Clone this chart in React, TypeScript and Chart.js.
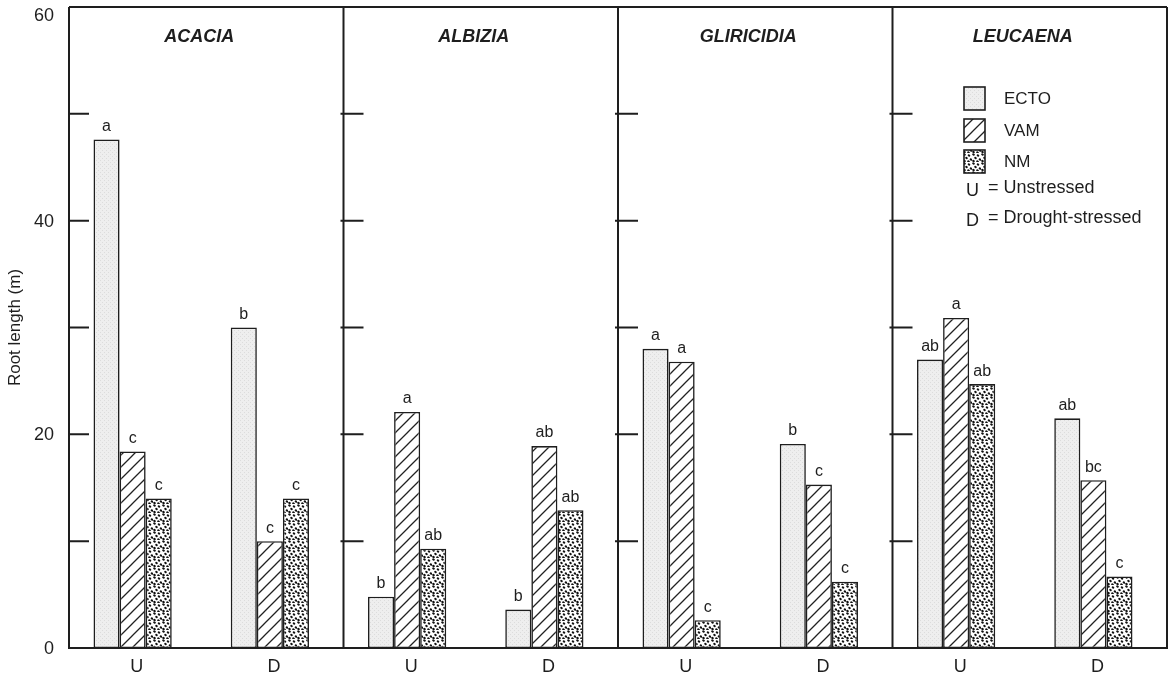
import React, { useEffect, useRef } from 'react';
import { Chart, registerables } from 'chart.js';

Chart.register(...registerables);

const panels = ['ACACIA', 'ALBIZIA', 'GLIRICIDIA', 'LEUCAENA'];
const categories = ['U', 'D', 'U', 'D', 'U', 'D', 'U', 'D'];
const ecto = [47.6, 30.0, 4.8, 3.6, 28.0, 19.1, 27.0, 21.5];
const vam = [18.4, 10.0, 22.1, 18.9, 26.8, 15.3, 30.9, 15.7];
const nm = [14.0, 14.0, 9.3, 12.9, 2.6, 6.2, 24.7, 6.7];
const ectoSig = ['a', 'b', 'b', 'b', 'a', 'b', 'ab', 'ab'];
const vamSig = ['c', 'c', 'a', 'ab', 'a', 'c', 'a', 'bc'];
const nmSig = ['c', 'c', 'ab', 'ab', 'c', 'c', 'ab', 'c'];
const seriesNames = ['ECTO', 'VAM', 'NM'];
const labeledTicks = [0, 20, 40, 60];
const minorTicks = [10, 20, 30, 40, 50];
const legendNotes = [['U', '= Unstressed'], ['D', '= Drought-stressed']];

const FONT = "'Liberation Sans', Arial, Helvetica, sans-serif";
const INK = '#1e1e1e';
const SHIFT = 5; // frame drawn slightly right of the category grid

function makeHatch(): CanvasPattern | string {
  const s = 12;
  const c = document.createElement('canvas');
  c.width = s; c.height = s;
  const g = c.getContext('2d');
  if (!g) return '#fff';
  g.fillStyle = '#ffffff';
  g.fillRect(0, 0, s, s);
  g.strokeStyle = '#222';
  g.lineWidth = 1.3;
  g.beginPath();
  g.moveTo(0, s); g.lineTo(s, 0);
  g.moveTo(-2, 2); g.lineTo(2, -2);
  g.moveTo(s - 2, s + 2); g.lineTo(s + 2, s - 2);
  g.stroke();
  return g.createPattern(c, 'repeat') || '#fff';
}

function makeDots(): CanvasPattern | string {
  const s = 9;
  const c = document.createElement('canvas');
  c.width = s; c.height = s;
  const g = c.getContext('2d');
  if (!g) return '#888';
  g.fillStyle = '#ffffff';
  g.fillRect(0, 0, s, s);
  g.fillStyle = '#111';
  const pts = [[1.5, 1.5], [6, 2.5], [3.5, 5], [8, 6.5], [1.5, 8], [5.5, 8.5]];
  pts.forEach(([x, y]) => {
    g.beginPath();
    g.ellipse(x, y, 1.35, 1.05, 0.4, 0, Math.PI * 2);
    g.fill();
  });
  return g.createPattern(c, 'repeat') || '#888';
}

function makeStipple(): CanvasPattern | string {
  const s = 4;
  const c = document.createElement('canvas');
  c.width = s; c.height = s;
  const g = c.getContext('2d');
  if (!g) return '#eee';
  g.fillStyle = '#eeeeee';
  g.fillRect(0, 0, s, s);
  g.fillStyle = '#dcdcdc';
  g.fillRect(0, 0, 1, 1);
  g.fillRect(2, 2, 1, 1);
  return g.createPattern(c, 'repeat') || '#eee';
}

export default function App() {
  const ref = useRef<HTMLCanvasElement | null>(null);

  useEffect(() => {
    const canvas = ref.current;
    if (!canvas) return;
    const fills = [makeStipple(), makeHatch(), makeDots()];
    const sigs = [ectoSig, vamSig, nmSig];

    const framePlugin = {
      id: 'framePlugin',
      afterDraw(chart: any) {
        const { ctx, chartArea } = chart;
        const xs = chart.scales.x;
        const ys = chart.scales.y;
        const top = chartArea.top;
        const bottom = chartArea.bottom;
        const left = chartArea.left + SHIFT;
        const right = chartArea.right + SHIFT;
        ctx.save();
        // significance letters
        ctx.fillStyle = INK;
        ctx.font = `16px ${FONT}`;
        ctx.textAlign = 'center';
        ctx.textBaseline = 'bottom';
        chart.data.datasets.forEach((ds: any, di: number) => {
          const meta = chart.getDatasetMeta(di);
          meta.data.forEach((bar: any, i: number) => {
            ctx.fillText(sigs[di][i], bar.x, bar.y - 5);
          });
        });
        // y tick labels
        ctx.font = `18px ${FONT}`;
        ctx.textAlign = 'right';
        ctx.textBaseline = 'middle';
        labeledTicks.forEach((v) => {
          const y = Math.max(ys.getPixelForValue(v), top + 8) + 1;
          ctx.fillText(String(v), left - 15, y);
        });
        // frame
        ctx.strokeStyle = INK;
        ctx.lineWidth = 2;
        ctx.beginPath();
        ctx.moveTo(left, top); ctx.lineTo(right, top);
        ctx.moveTo(left, top); ctx.lineTo(left, bottom);
        ctx.moveTo(right, top); ctx.lineTo(right, bottom);
        ctx.moveTo(left - 1, bottom); ctx.lineTo(right + 1, bottom);
        ctx.stroke();
        const panelLefts: number[] = [left];
        const panelRights: number[] = [];
        for (let p = 1; p < panels.length; p++) {
          const x = (xs.getPixelForValue(2 * p - 1) + xs.getPixelForValue(2 * p)) / 2 + SHIFT;
          panelLefts.push(x);
          panelRights.push(x);
        }
        panelRights.push(right);
        ctx.beginPath();
        panelLefts.slice(1).forEach((x) => { ctx.moveTo(x, top); ctx.lineTo(x, bottom); });
        ctx.stroke();
        // inward ticks
        ctx.beginPath();
        panelLefts.forEach((x, pi) => {
          minorTicks.forEach((v) => {
            const y = ys.getPixelForValue(v);
            ctx.moveTo(pi === 0 ? x : x - 3, y);
            ctx.lineTo(x + 20, y);
          });
        });
        ctx.stroke();
        // panel titles
        ctx.fillStyle = INK;
        ctx.font = `italic bold 18px ${FONT}`;
        ctx.textBaseline = 'middle';
        ctx.textAlign = 'center';
        panels.forEach((name, pi) => {
          const cx = (panelLefts[pi] + panelRights[pi]) / 2 - 7;
          ctx.fillText(name, cx, top + 30);
        });
        // legend
        const lx = right - 203;
        const boxW = 21, boxH = 23;
        const rowsY = [top + 80, top + 112, top + 143];
        ctx.font = `17px ${FONT}`;
        ctx.textAlign = 'left';
        seriesNames.forEach((name, i) => {
          const y = rowsY[i];
          ctx.fillStyle = fills[i] as any;
          ctx.fillRect(lx, y, boxW, boxH);
          ctx.lineWidth = 1.6;
          ctx.strokeStyle = INK;
          ctx.strokeRect(lx, y, boxW, boxH);
          ctx.fillStyle = INK;
          ctx.fillText(name, lx + 40, y + boxH / 2 + 1);
        });
        ctx.font = `18px ${FONT}`;
        const noteY = [top + 181, top + 211];
        legendNotes.forEach(([k, txt], i) => {
          ctx.fillText(k, lx + 2, noteY[i] + 3);
          ctx.fillText(txt, lx + 24, noteY[i]);
        });
        ctx.restore();
      },
    };

    const chart = new Chart(canvas, {
      type: 'bar',
      data: {
        labels: categories,
        datasets: [ecto, vam, nm].map((d, i) => ({
          label: seriesNames[i],
          data: d,
          backgroundColor: fills[i] as any,
          borderColor: INK,
          borderWidth: 1.6,
          borderSkipped: false,
          categoryPercentage: 0.57,
          barPercentage: 1.0,
        })),
      },
      options: {
        animation: false,
        responsive: true,
        maintainAspectRatio: false,
        layout: { padding: { top: 7, right: 5 + SHIFT, left: 0, bottom: 0 } },
        plugins: {
          legend: { display: false },
          tooltip: { enabled: false },
          title: { display: false },
        },
        scales: {
          x: {
            grid: { display: false, drawTicks: false },
            border: { display: false },
            ticks: { color: INK, font: { family: FONT, size: 18 }, padding: 8, maxRotation: 0, labelOffset: 4 },
            afterFit: (s: any) => { s.height = 25; s.paddingLeft = 0; s.paddingRight = 0; },
          },
          y: {
            min: 0,
            max: 60,
            grid: { display: false, drawTicks: false },
            border: { display: false },
            ticks: { display: false, stepSize: 10 },
            title: {
              display: true,
              text: 'Root length (m)',
              color: INK,
              font: { family: FONT, size: 17 },
              padding: { top: 5, bottom: 2 },
            },
            afterFit: (s: any) => { s.width = 69 - SHIFT; s.paddingTop = 0; s.paddingBottom = 0; },
          },
        },
      },
      plugins: [framePlugin],
    });
    return () => chart.destroy();
  }, []);

  return (
    <div style={{ position: 'fixed', left: 0, top: 0, width: 1172, height: 673, background: '#fff' }}>
      <canvas ref={ref} />
    </div>
  );
}
